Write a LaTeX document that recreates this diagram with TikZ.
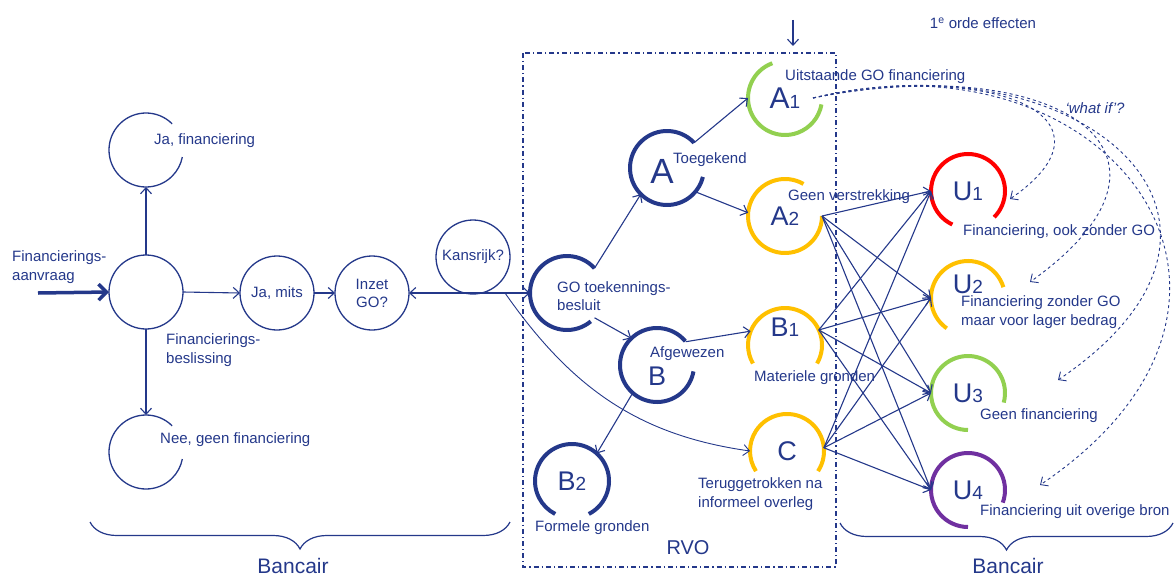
\documentclass[tikz,border=0pt]{standalone}
\usepackage{fontspec}
\setmainfont{Liberation Sans}
\usepackage{tikz}
\usetikzlibrary{arrows.meta,decorations.pathreplacing}
\definecolor{navy}{RGB}{36,56,138}
\definecolor{goyellow}{RGB}{255,192,0}
\definecolor{gogreen}{RGB}{146,208,80}
\definecolor{gored}{RGB}{255,0,0}
\definecolor{gopurple}{RGB}{112,48,160}
\newcommand{\idx}[1]{{\fontsize{19}{19}\selectfont #1}}

\begin{document}
\begin{tikzpicture}[x=1pt,y=1pt]
  \tikzstyle{letter}=[text=navy,font=\fontsize{27}{27}\selectfont]
  \tikzstyle{state}=[circle,minimum size=74pt,inner sep=0pt,outer sep=0pt,letter]
  \tikzstyle{plain}=[state,draw=navy,line width=1.3pt,font=\fontsize{15}{18}\selectfont,align=center]
  \tikzstyle{lbl}=[text=navy,anchor=west,inner sep=0pt,font=\fontsize{15}{18.5}\selectfont,align=left]
  \tikzstyle{directed}=[-{Straight Barb[length=6pt,width=11pt]},draw=navy,line width=1.1pt]
  \tikzstyle{whatif}=[directed,dashed,line width=0.9pt]
  \tikzstyle{brace}=[draw=navy,line width=1.2pt,decorate,decoration={brace,mirror,amplitude=27pt}]
  \useasboundingbox (0,0) rectangle (1174,-578);

  % bank side
  \node[plain] (dec) at (146,-292) {};
  \node[state] (jafin) at (146,-150) {};
  \node[state] (nee) at (146,-452) {};
  \node[plain] (mits) at (277,-293) {Ja, mits};
  \node[plain] (inzet) at (372,-293) {Inzet\\GO?};
  \node[plain] (kans) at (473,-257) {Kansrijk?};

  % RVO
  \node[state] (go) at (567,-293) {};
  \node[state,label={[letter,font=\fontsize{35}{35}\selectfont,xshift=-5pt,yshift=-3pt]center:A}] (A) at (667,-168) {};
  \node[state,font=\fontsize{30}{30}\selectfont] (A1) at (785,-98) {A\idx{1}};
  \node[state] (A2) at (785,-216) {A\idx{2}};
  \node[state,label={[letter,yshift=-11pt]center:B}] (B) at (657,-365) {};
  \node[state,label={[letter,yshift=18pt]center:B\idx{1}}] (B1) at (785,-345) {};
  \node[state] (B2) at (572,-481) {B\idx{2}};
  \node[state] (C) at (787,-451) {C};

  % uitkomsten
  \node[state] (U1) at (968,-191) {U\idx{1}};
  \node[state,label={[letter,yshift=14pt]center:U\idx{2}}] (U2) at (968,-298) {};
  \node[state] (U3) at (968,-393) {U\idx{3}};
  \node[state] (U4) at (968,-490) {U\idx{4}};

  \foreach \n/\c/\w/\s/\e in {jafin/navy/1.3/45/349, nee/navy/1.3/45/349,
      go/navy/4/42/310, A/navy/4/43/346, B/navy/4/40/350, B2/navy/4/-63/243,
      A1/gogreen/4/110/350, A2/goyellow/4/60/360, B1/goyellow/4/-30/210, C/goyellow/4/-33/213,
      U1/gored/4/-45/245, U2/goyellow/4/17/235, U3/gogreen/4/-15/270, U4/gopurple/4/-20/270} {
    \draw[\c,line width=\w pt] (\n.\s) arc[start angle=\s, end angle=\e, radius=37pt];
  }

  % labels
  \node[lbl] (taanv) at (12,-267) {Financierings-\\aanvraag};
  \node[lbl] (tjafin) at (154,-141) {Ja, financiering};
  \node[lbl] (tbesl) at (166,-350) {Financierings-\\beslissing};
  \node[lbl] (tnee) at (160,-440) {Nee, geen financiering};
  \node[lbl] (tgo) at (557,-296) {GO toekennings-\\besluit};
  \node[lbl] (ttoeg) at (673,-160) {Toegekend};
  \node[lbl] (tuitst) at (785,-77) {Uitstaande GO financiering};
  \node[lbl] (tgeen) at (788,-197) {Geen verstrekking};
  \node[lbl] (tafg) at (650,-354) {Afgewezen};
  \node[lbl] (tmat) at (754,-378) {Materiele gronden};
  \node[lbl] (tterug) at (698,-494) {Teruggetrokken na\\informeel overleg};
  \node[lbl] (tform) at (535,-528) {Formele gronden};
  \node[lbl] (tu1) at (963,-232) {Financiering, ook zonder GO};
  \node[lbl] (tu2) at (961,-312) {Financiering zonder GO\\maar voor lager bedrag};
  \node[lbl] (tu3) at (980,-416) {Geen financiering};
  \node[lbl] (tu4) at (980,-512) {Financiering uit overige bron};
  \node[text=navy,font=\fontsize{15}{18}\selectfont] (torde) at (983,-23) {1\textsuperscript{e} orde effecten};
  \node[text=navy,font=\fontsize{15}{18}\selectfont\itshape] (twhat) at (1095,-108) {‘what if’?};
  \node[text=navy,font=\fontsize{20}{24}\selectfont] (trvo) at (688,-548) {RVO};
  \node[text=navy,font=\fontsize{21}{24}\selectfont] (tbanc1) at (293,-566) {Bancair};
  \node[text=navy,font=\fontsize{21}{24}\selectfont] (tbanc2) at (1008,-566) {Bancair};

  % RVO kader en accolades
  \draw[navy,line width=1.1pt,dash pattern=on 5pt off 3pt on 1.2pt off 3pt] (523,-53) rectangle (836,-567);
  \draw[brace] (90,-522) -- (510,-522);
  \draw[brace] (840,-523) -- (1173,-523);

  % connectors
  \coordinate (aanvraag) at (38,-293);
  \draw[navy,line width=3.5pt,-{Straight Barb[length=8pt,width=16pt]}] (aanvraag) -- (dec.west);
  \draw[directed] (dec.north) -- (jafin.south);
  \draw[directed] (dec.south) -- (nee.north);
  \draw[directed] (dec.east) -- (mits.west);
  \draw[directed] (mits.east) -- (inzet.west);
  \draw[directed,{Straight Barb[length=6pt,width=11pt]}-{Straight Barb[length=6pt,width=11pt]}] (inzet.east) -- (go.west);
  \coordinate (split) at (505,-293);
  \draw[directed,line width=0.9pt] (split) to[out=-55,in=172] (C.west);
  \draw[directed] (go.42) -- (A.225);
  \draw[directed] (go.-42) -- (B.134);
  \draw[directed] (A.43) -- (A1.west);
  \draw[directed] (A.-40) -- (A2.175);
  \draw[directed] (B.39) -- (B1.158);
  \draw[directed] (B.229) -- (B2.48);
  \coordinate (boven) at (793,-20);
  \coordinate (bovenpunt) at (793,-46);
  \draw[directed] (boven) -- (bovenpunt);
  \foreach \s/\a in {A2/0,B1/24,C/5} {
    \foreach \t in {U1,U2,U3,U4} {
      \draw[directed] (\s.\a) -- (\t.west);
    }
  }

  % what if
  \coordinate (wif) at ([xshift=-9pt]A1.east);
  \draw[whatif] (wif) .. controls (1000,-60) and (1125,-120) .. ([shift={(42,-8)}]U1.center);
  \draw[whatif] (wif) .. controls (1050,-50) and (1215,-150) .. ([shift={(62,16)}]U2.center);
  \draw[whatif] (wif) .. controls (1080,-35) and (1295,-220) .. ([shift={(90,13)}]U3.center);
  \draw[whatif] (wif) .. controls (1110,-25) and (1315,-300) .. ([shift={(72,5)}]U4.center);
\end{tikzpicture}
\end{document}
